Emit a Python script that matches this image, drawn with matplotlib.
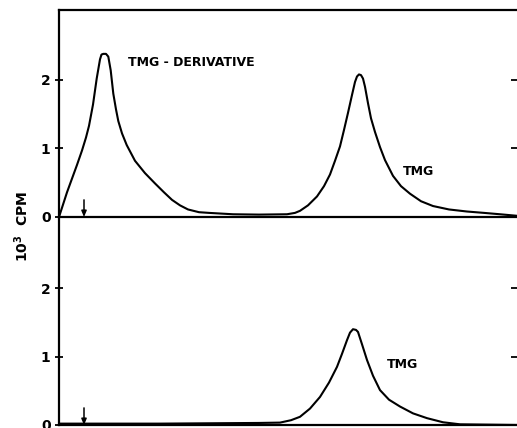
import matplotlib.pyplot as plt

# fraction position (arbitrary units) and 10^3 CPM
x_top = [0, 0.4, 0.8, 1.3, 1.8, 2.3, 2.7, 3.0, 3.4, 3.77, 4.1, 4.25, 4.43, 4.7,
         4.93, 5.17, 5.43, 5.7, 5.93, 6.3, 6.77, 7.6, 8.6, 9.6, 10.5, 11.3, 12.1,
         12.9, 14.0, 15.0, 17.4, 20.0, 22.8, 23.6, 24.1, 24.9, 25.8, 26.5, 27.1,
         27.6, 28.1, 28.5, 28.9, 29.3, 29.6, 29.8, 30.0, 30.2, 30.4, 30.6, 30.9,
         31.2, 31.6, 32.1, 32.6, 33.4, 34.2, 35.1, 36.2, 37.4, 39.0, 40.8, 42.5,
         44.1, 46.0]
cpm_top = [0, 0.18, 0.36, 0.56, 0.76, 0.97, 1.16, 1.33, 1.64, 2.02, 2.30, 2.37,
           2.38, 2.38, 2.34, 2.14, 1.80, 1.57, 1.40, 1.22, 1.05, 0.82, 0.64, 0.49,
           0.36, 0.25, 0.17, 0.11, 0.07, 0.06, 0.04, 0.035, 0.04, 0.06, 0.09,
           0.17, 0.30, 0.45, 0.62, 0.82, 1.03, 1.27, 1.52, 1.78, 1.97, 2.05, 2.08,
           2.07, 2.02, 1.90, 1.66, 1.44, 1.24, 1.02, 0.83, 0.60, 0.45, 0.34, 0.23,
           0.16, 0.11, 0.08, 0.06, 0.04, 0.015]

x_bot = [0, 10, 20, 22.1, 23.2, 24.1, 25.1, 26.1, 27.0, 27.8, 28.3, 28.8, 29.1,
         29.4, 29.7, 29.9, 30.3, 30.8, 31.4, 32.1, 33.0, 34.1, 35.4, 36.8, 38.4,
         40.1, 46.0]
cpm_bot = [0.02, 0.02, 0.03, 0.035, 0.07, 0.12, 0.24, 0.41, 0.62, 0.85, 1.04,
           1.24, 1.35, 1.40, 1.39, 1.36, 1.18, 0.95, 0.72, 0.51, 0.37, 0.27, 0.17,
           0.10, 0.04, 0.01, 0.0]

arrow_x = 2.5
yticks = [0, 1, 2]
ytick_labels = ['0', '1', '2']

W, H = 517, 428
fig = plt.figure(figsize=(W / 100, H / 100), dpi=100)
left = 59 / W
width = (521 - 59) / W
ax1 = fig.add_axes([left, (H - 217) / H, width, 207 / H])
ax2 = fig.add_axes([left, (H - 425) / H, width, 208 / H])

for ax, x, y, top in [(ax1, x_top, cpm_top, 3.02), (ax2, x_bot, cpm_bot, 3.04)]:
    ax.plot(x, y, color='black', lw=1.5, solid_capstyle='round',
            solid_joinstyle='round')
    ax.set_xlim(0, 46.2)
    ax.set_ylim(0, top)
    ax.set_xticks([])
    ax.set_yticks(yticks)
    ax.set_yticklabels(ytick_labels, fontsize=10, fontweight='bold')
    ax.tick_params(axis='y', direction='inout', length=6, width=1.3, pad=3,
                   right=True, left=True)
    for s in ax.spines.values():
        s.set_linewidth(1.6)
    ax.annotate('', xy=(arrow_x, 0.0), xytext=(arrow_x, 0.25),
                arrowprops=dict(arrowstyle='-|>,head_length=0.35,head_width=0.15',
                                color='black', lw=1.1, shrinkA=0, shrinkB=0))
    ax.patch.set_alpha(0)

# right ticks point inward only
for ax in (ax1, ax2):
    for t in ax.yaxis.get_major_ticks():
        t.tick2line.set_marker(0)
        t.tick2line.set_markersize(7)
ax2.spines['top'].set_visible(False)

ax1.text(6.9, 2.26, 'TMG - DERIVATIVE', fontsize=9, fontweight='bold', va='center')
ax1.text(34.4, 0.67, 'TMG', fontsize=9, fontweight='bold', va='center')
ax2.text(32.8, 0.88, 'TMG', fontsize=9, fontweight='bold', va='center')

fig.text(21.5 / W, 1 - 226 / H, r'10$^{\mathbf{3}}$  CPM', rotation=90,
         ha='center', va='center', fontsize=10, fontweight='bold')

fig.savefig('out.png', dpi=100)
